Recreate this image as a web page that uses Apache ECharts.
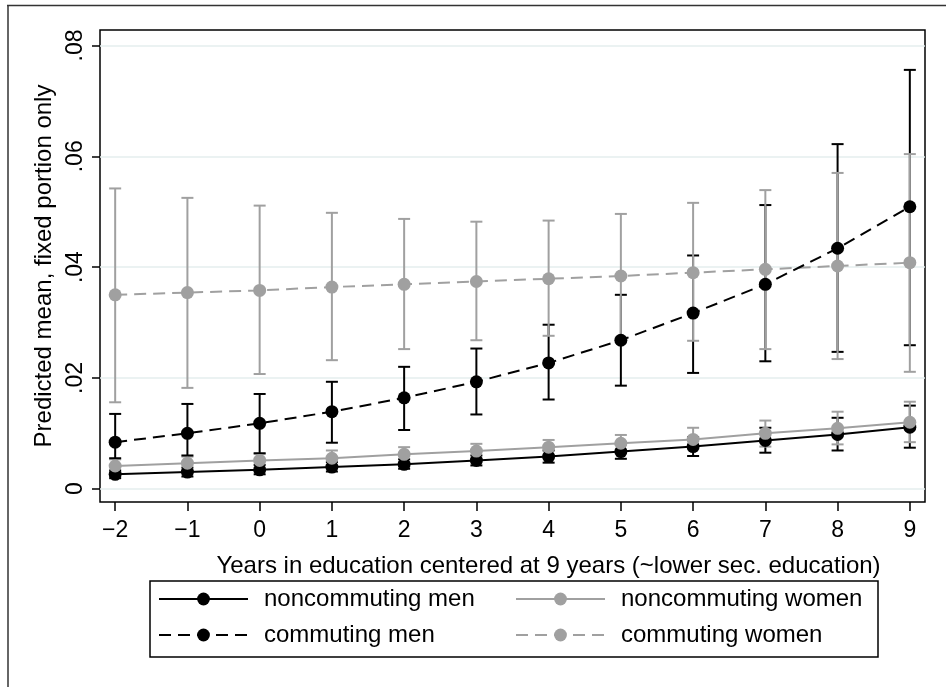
<!DOCTYPE html>
<html>
<head>
<meta charset="utf-8">
<script src="https://cdn.jsdelivr.net/npm/echarts@6/dist/echarts.min.js"></script>
<style>
  html, body { margin: 0; padding: 0; background: #fff; }
  #chart { width: 946px; height: 687px; }
</style>
</head>
<body>
<div id="chart"></div>
<script>
// years in education, centered at 9
const years = [-2, -1, 0, 1, 2, 3, 4, 5, 6, 7, 8, 9]
const xTicks = [-2, -1, 0, 1, 2, 3, 4, 5, 6, 7, 8, 9]
const yTicks = [0, 0.02, 0.04, 0.06, 0.08]

const noncommMen = [0.0026, 0.0030, 0.0034, 0.0039, 0.0044, 0.0051, 0.0058, 0.0067, 0.0076, 0.0087, 0.0098, 0.0111]
const noncommMenLo = [0.0019, 0.0022, 0.0026, 0.0031, 0.0036, 0.0042, 0.0047, 0.0054, 0.0059, 0.0065, 0.0069, 0.0074]
const noncommMenHi = [0.0033, 0.0038, 0.0043, 0.0048, 0.0053, 0.0060, 0.0069, 0.0080, 0.0093, 0.0110, 0.0128, 0.0150]

const noncommWomen = [0.0041, 0.0046, 0.0051, 0.0055, 0.0062, 0.0068, 0.0075, 0.0082, 0.0089, 0.0100, 0.0109, 0.0120]
const noncommWomenLo = [0.0030, 0.0034, 0.0038, 0.0042, 0.0048, 0.0054, 0.0060, 0.0066, 0.0071, 0.0076, 0.0080, 0.0084]
const noncommWomenHi = [0.0053, 0.0058, 0.0063, 0.0069, 0.0075, 0.0081, 0.0088, 0.0097, 0.0110, 0.0123, 0.0139, 0.0157]

const commMen = [0.0084, 0.0100, 0.0118, 0.0139, 0.0164, 0.0193, 0.0227, 0.0268, 0.0317, 0.0369, 0.0434, 0.0509]
const commMenLo = [0.0055, 0.0060, 0.0064, 0.0083, 0.0106, 0.0134, 0.0161, 0.0186, 0.0209, 0.0230, 0.0247, 0.0259]
const commMenHi = [0.0135, 0.0153, 0.0171, 0.0193, 0.0220, 0.0253, 0.0296, 0.0350, 0.0421, 0.0512, 0.0622, 0.0756]

const commWomen = [0.0350, 0.0354, 0.0358, 0.0364, 0.0369, 0.0374, 0.0379, 0.0384, 0.0390, 0.0396, 0.0402, 0.0408]
const commWomenLo = [0.0156, 0.0182, 0.0207, 0.0232, 0.0252, 0.0268, 0.0276, 0.0273, 0.0267, 0.0252, 0.0234, 0.0211]
const commWomenHi = [0.0542, 0.0525, 0.0511, 0.0498, 0.0487, 0.0482, 0.0484, 0.0496, 0.0516, 0.0539, 0.0570, 0.0604]

const BLACK = '#000000'
const GREY = '#a0a0a0'
const FONT = '"Liberation Sans", Arial, sans-serif'

const chart = echarts.init(document.getElementById('chart'), null, { renderer: 'canvas' })

function zip(values) {
  return years.map((x, i) => [x, values[i]])
}

function ciSeries(name, lo, hi, color) {
  return {
    name: name + ' CI',
    type: 'custom',
    z: 2,
    silent: true,
    data: years.map((x, i) => [x, lo[i], hi[i]]),
    renderItem: (params, api) => {
      const top = api.coord([api.value(0), api.value(2)])
      const bot = api.coord([api.value(0), api.value(1)])
      const w = 6
      const style = { stroke: color, lineWidth: 2 }
      return {
        type: 'group',
        children: [
          { type: 'line', shape: { x1: top[0], y1: top[1], x2: bot[0], y2: bot[1] }, style },
          { type: 'line', shape: { x1: top[0] - w, y1: top[1], x2: top[0] + w, y2: top[1] }, style },
          { type: 'line', shape: { x1: bot[0] - w, y1: bot[1], x2: bot[0] + w, y2: bot[1] }, style }
        ]
      }
    }
  }
}

function lineSeries(name, values, color, dashed) {
  return {
    name,
    type: 'line',
    z: 3,
    data: zip(values),
    symbol: 'circle',
    symbolSize: 13,
    itemStyle: { color },
    lineStyle: { color, width: 2, type: dashed ? [12, 7] : 'solid' },
    emphasis: { disabled: true },
    animation: false
  }
}

function fmtY(v) {
  return v === 0 ? '0' : v.toFixed(2).replace(/^0/, '')
}

const legendCommon = {
  orient: 'vertical',
  top: 587,
  padding: 0,
  itemWidth: 89,
  itemHeight: 16,
  itemGap: 12,
  selectedMode: false,
  textStyle: { fontSize: 24, color: BLACK, fontFamily: FONT, padding: [0, 0, 0, 11] }
}

const option = {
  backgroundColor: '#fff',
  animation: false,
  grid: {
    left: 100, top: 30, right: 21, bottom: 185,
    show: true, borderColor: BLACK, borderWidth: 1.5, backgroundColor: '#fff'
  },
  xAxis: {
    type: 'value',
    min: -2.21,
    max: 9.21,
    name: 'Years in education centered at 9 years (~lower sec. education)',
    nameLocation: 'middle',
    nameGap: 52,
    nameTextStyle: { fontSize: 24, color: BLACK, fontFamily: FONT, padding: [0, 0, 0, 72] },
    axisLine: { show: false, onZero: false },
    axisTick: { customValues: xTicks, length: 9, lineStyle: { color: BLACK, width: 1.5 } },
    axisLabel: {
      customValues: xTicks,
      fontSize: 23, color: BLACK, fontFamily: FONT, margin: 17,
      formatter: (v) => String(v).replace('-', '\u2212')
    },
    splitLine: { show: false }
  },
  yAxis: {
    type: 'value',
    min: -0.0024,
    max: 0.0828,
    name: 'Predicted mean, fixed portion only',
    nameLocation: 'middle',
    nameRotate: 90,
    nameGap: 37,
    nameTextStyle: { fontSize: 24, color: BLACK, fontFamily: FONT },
    axisLine: { show: false, onZero: false },
    axisTick: { customValues: yTicks, length: 8, lineStyle: { color: BLACK, width: 1.5 } },
    axisLabel: {
      customValues: yTicks,
      rotate: 90, fontSize: 23, color: BLACK, fontFamily: FONT, margin: 13,
      formatter: fmtY
    },
    splitLine: { show: true, lineStyle: { color: '#e4eeee', width: 1.5 } }
  },
  legend: [
    Object.assign({}, legendCommon, { left: 158, data: ['noncommuting men', 'commuting men'] }),
    Object.assign({}, legendCommon, { left: 515, data: ['noncommuting women', 'commuting women'] })
  ],
  graphic: [
    { type: 'line', shape: { x1: 7, y1: 5.5, x2: 946, y2: 5.5 }, style: { stroke: '#333', lineWidth: 1.5 }, silent: true },
    { type: 'line', shape: { x1: 8, y1: 5, x2: 8, y2: 687 }, style: { stroke: '#333', lineWidth: 1.5 }, silent: true },
    { type: 'rect', shape: { x: 150, y: 581, width: 728, height: 76 }, style: { fill: 'none', stroke: BLACK, lineWidth: 1.5 }, silent: true, z: -1 }
  ],
  series: [
    ciSeries('noncommuting men', noncommMenLo, noncommMenHi, BLACK),
    ciSeries('noncommuting women', noncommWomenLo, noncommWomenHi, GREY),
    ciSeries('commuting men', commMenLo, commMenHi, BLACK),
    ciSeries('commuting women', commWomenLo, commWomenHi, GREY),
    lineSeries('noncommuting men', noncommMen, BLACK, false),
    lineSeries('noncommuting women', noncommWomen, GREY, false),
    lineSeries('commuting women', commWomen, GREY, true),
    lineSeries('commuting men', commMen, BLACK, true)
  ]
}

chart.setOption(option)
</script>
</body>
</html>
